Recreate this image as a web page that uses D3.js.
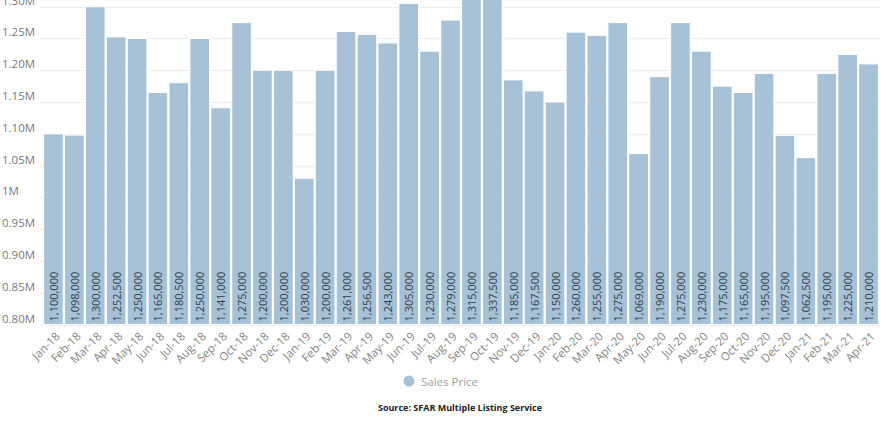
<!DOCTYPE html>
<html>
<head>
<meta charset="utf-8">
<script src="https://cdn.jsdelivr.net/npm/d3@7/dist/d3.min.js"></script>
<style>
  html, body { margin: 0; padding: 0; background: #fff; }
  svg { display: block; font-family: "Open Sans", "Noto Sans", sans-serif; }
</style>
</head>
<body>
<svg id="chart" width="890" height="448"></svg>
<script>
// Monthly median sales price
const months = [
  "Jan-18","Feb-18","Mar-18","Apr-18","May-18","Jun-18","Jul-18","Aug-18","Sep-18","Oct-18","Nov-18","Dec-18",
  "Jan-19","Feb-19","Mar-19","Apr-19","May-19","Jun-19","Jul-19","Aug-19","Sep-19","Oct-19","Nov-19","Dec-19",
  "Jan-20","Feb-20","Mar-20","Apr-20","May-20","Jun-20","Jul-20","Aug-20","Sep-20","Oct-20","Nov-20","Dec-20",
  "Jan-21","Feb-21","Mar-21","Apr-21"
];
const salesPrice = [
  1100000, 1098000, 1300000, 1252500, 1250000, 1165000, 1180500, 1250000, 1141000, 1275000, 1200000, 1200000,
  1030000, 1200000, 1261000, 1256500, 1243000, 1305000, 1230000, 1279000, 1315000, 1337500, 1185000, 1167500,
  1150000, 1260000, 1255000, 1275000, 1069000, 1190000, 1275000, 1230000, 1175000, 1165000, 1195000, 1097500,
  1062500, 1195000, 1225000, 1210000
];
const yTicks = [800000, 850000, 900000, 950000, 1000000, 1050000, 1100000, 1150000, 1200000, 1250000, 1300000];
const yTickLabels = ["0.80M","0.85M","0.90M","0.95M","1M","1.05M","1.10M","1.15M","1.20M","1.25M","1.30M"];
const seriesName = "Sales Price";
const sourceNote = "Source: SFAR Multiple Listing Service";

const svg = d3.select("#chart");
const barColor = "#a7c2d7";

const x = d3.scaleBand().domain(months).range([43, 879]).paddingInner(0.06).paddingOuter(0.03);
const y = d3.scaleLinear().domain([800000, 1300000]).range([324.5, 6.7]);

// horizontal grid
svg.append("g").selectAll("line").data(yTicks).join("line")
  .attr("x1", 40).attr("x2", 880)
  .attr("y1", d => Math.round(y(d)) + 0.5).attr("y2", d => Math.round(y(d)) + 0.5)
  .attr("stroke", "#ececec").attr("stroke-width", 1);

// y-axis labels
svg.append("g").selectAll("text").data(yTicks).join("text")
  .attr("x", 2).attr("y", d => y(d) - 2)
  .attr("font-size", 11.5).attr("fill", "#7a7a7a")
  .text((d, i) => yTickLabels[i]);

// bars
svg.append("g").selectAll("rect").data(salesPrice).join("rect")
  .attr("x", (d, i) => x(months[i]))
  .attr("width", x.bandwidth())
  .attr("y", d => y(d))
  .attr("height", d => y(800000) - y(d))
  .attr("fill", barColor)
  .attr("stroke", "#ffffff").attr("stroke-width", 1);

// value labels inside bars
const fmt = d3.format(",");
svg.append("g").selectAll("text").data(salesPrice).join("text")
  .attr("transform", (d, i) => `translate(${x(months[i]) + x.bandwidth() / 2},${y(800000) - 3}) rotate(-90)`)
  .attr("dominant-baseline", "central")
  .attr("font-size", 11).attr("fill", "#2e3a46")
  .text(d => fmt(d));

// x-axis labels
svg.append("g").selectAll("text").data(months).join("text")
  .attr("transform", d => `translate(${x(d) + x.bandwidth() / 2 + 4},${334}) rotate(-45)`)
  .attr("text-anchor", "end")
  .attr("dominant-baseline", "central")
  .attr("font-size", 11.5).attr("fill", "#858585")
  .text(d => d);

// legend
const legend = svg.append("g").attr("transform", "translate(409,381)");
legend.append("circle").attr("r", 5.5).attr("fill", barColor);
legend.append("text").attr("x", 12).attr("dominant-baseline", "central")
  .attr("font-size", 11.5).attr("fill", "#a0a0a0").text(seriesName);

// source
svg.append("text").attr("x", 460).attr("y", 407)
  .attr("text-anchor", "middle").attr("dominant-baseline", "central")
  .attr("font-size", 9).attr("font-weight", "bold").attr("fill", "#222")
  .text(sourceNote);
</script>
</body>
</html>
